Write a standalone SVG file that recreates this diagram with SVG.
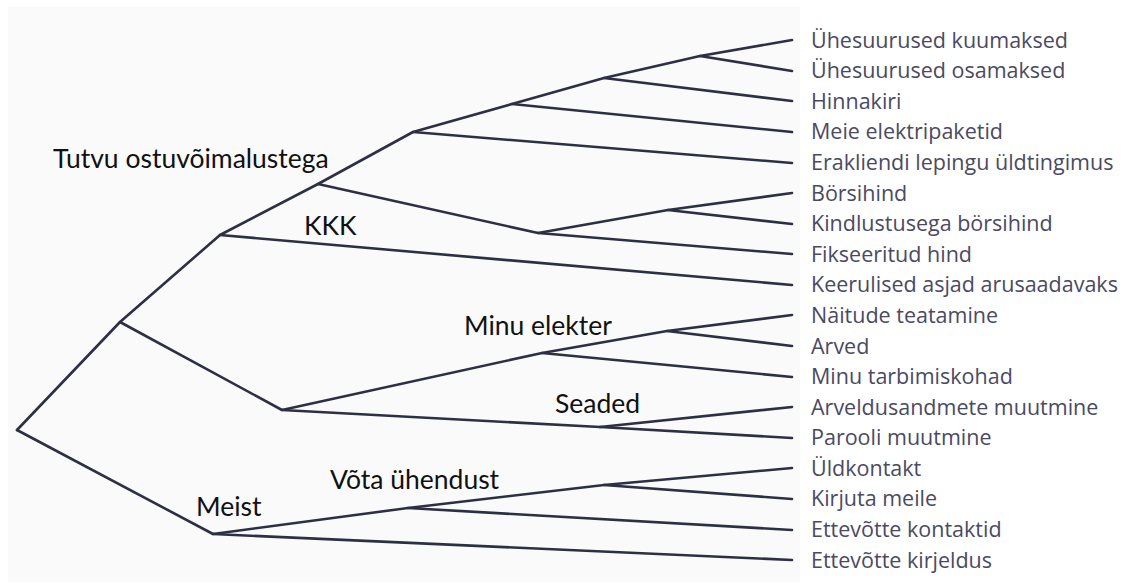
<svg xmlns="http://www.w3.org/2000/svg" width="1126" height="588" viewBox="0 0 1126 588">
<style>
.e{fill:none;stroke:#2d2f45;stroke-width:2.6;stroke-linejoin:round;stroke-linecap:round}
.lbl{font-family:Lato,"Liberation Sans",sans-serif;font-size:26.5px;fill:#111}
.leaf{font-family:"Open Sans","Noto Sans",sans-serif;font-size:21.5px;fill:#4a4a62}
</style>
<rect x="0" y="0" width="1126" height="588" fill="#ffffff"/>
<rect x="8" y="7" width="792" height="575" fill="#fafafa"/>
<g id="connectors">
<polyline class="e" points="17,430 120,322 220,235 318,184 413,132 512,104 604,78 700,56 792,40"/>
<polyline class="e" points="700,56 792,71"/>
<polyline class="e" points="604,78 792,101"/>
<polyline class="e" points="512,104 792,132"/>
<polyline class="e" points="413,132 792,163"/>
<polyline class="e" points="318,184 538,233 668,210 792,193"/>
<polyline class="e" points="668,210 792,224"/>
<polyline class="e" points="538,233 792,254"/>
<polyline class="e" points="220,235 792,285"/>
<polyline class="e" points="120,322 282,410 542,353 667,331 792,315"/>
<polyline class="e" points="667,331 792,346"/>
<polyline class="e" points="542,353 792,377"/>
<polyline class="e" points="282,410 600,427 792,438"/>
<polyline class="e" points="600,427 792,407"/>
<polyline class="e" points="17,430 213,534 408,508 604,485 792,468"/>
<polyline class="e" points="604,485 792,499"/>
<polyline class="e" points="408,508 792,530"/>
<polyline class="e" points="213,534 792,560"/>
</g>
<g id="n-tutvu"><text class="lbl" x="53" y="168">Tutvu ostuvõimalustega</text></g>
<g id="n-kkk"><text class="lbl" x="304" y="235">KKK</text></g>
<g id="n-minu"><text class="lbl" x="464" y="335">Minu elekter</text></g>
<g id="n-seaded"><text class="lbl" x="555" y="413">Seaded</text></g>
<g id="n-vota"><text class="lbl" x="330" y="489">Võta ühendust</text></g>
<g id="n-meist"><text class="lbl" x="196" y="516">Meist</text></g>
<g id="leaves">
<g id="l1"><text class="leaf" x="811" y="48">Ühesuurused kuumaksed</text></g>
<g id="l2"><text class="leaf" x="811" y="78">Ühesuurused osamaksed</text></g>
<g id="l3"><text class="leaf" x="811" y="109">Hinnakiri</text></g>
<g id="l4"><text class="leaf" x="811" y="139">Meie elektripaketid</text></g>
<g id="l5"><text class="leaf" x="811" y="170">Erakliendi lepingu üldtingimus</text></g>
<g id="l6"><text class="leaf" x="811" y="201">Börsihind</text></g>
<g id="l7"><text class="leaf" x="811" y="231">Kindlustusega börsihind</text></g>
<g id="l8"><text class="leaf" x="811" y="262">Fikseeritud hind</text></g>
<g id="l9"><text class="leaf" x="811" y="292">Keerulised asjad arusaadavaks</text></g>
<g id="l10"><text class="leaf" x="811" y="323">Näitude teatamine</text></g>
<g id="l11"><text class="leaf" x="811" y="354">Arved</text></g>
<g id="l12"><text class="leaf" x="811" y="384">Minu tarbimiskohad</text></g>
<g id="l13"><text class="leaf" x="811" y="415">Arveldusandmete muutmine</text></g>
<g id="l14"><text class="leaf" x="811" y="445">Parooli muutmine</text></g>
<g id="l15"><text class="leaf" x="811" y="476">Üldkontakt</text></g>
<g id="l16"><text class="leaf" x="811" y="506">Kirjuta meile</text></g>
<g id="l17"><text class="leaf" x="811" y="537">Ettevõtte kontaktid</text></g>
<g id="l18"><text class="leaf" x="811" y="568">Ettevõtte kirjeldus</text></g>
</g>
</svg>
